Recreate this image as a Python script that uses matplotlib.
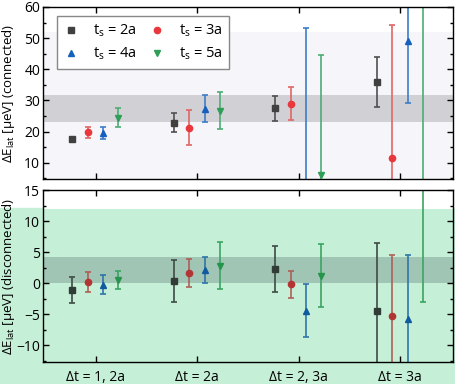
import numpy as np
import matplotlib
matplotlib.use('Agg')
import matplotlib.pyplot as plt
from matplotlib.colors import to_rgb
from matplotlib.patches import Rectangle

plt.rcParams['font.family'] = ['Open Sans', 'DejaVu Sans']
plt.rcParams['font.size'] = 10
plt.rcParams['mathtext.fontset'] = 'custom'
plt.rcParams['mathtext.rm'] = 'Open Sans'
plt.rcParams['mathtext.it'] = 'Open Sans'

# категории и серии
groups = ['Δt = 1, 2a', 'Δt = 2a', 'Δt = 2, 3a', 'Δt = 3a']
series = ['2a', '3a', '4a', '5a']

# connected (верхняя панель)
conn_val = [
    [17.5, 22.9, 27.5, 35.8],
    [19.8, 21.3, 29.0, 11.5],
    [19.6, 27.4, 0.0, 49.0],
    [24.5, 26.7, 6.0, 62.0],
]
conn_err = [
    [0.9, 3.0, 4.0, 8.0],
    [1.7, 5.6, 5.3, 42.6],
    [2.0, 4.4, 53.2, 19.7],
    [3.0, 5.9, 38.7, 65.0],
]
conn_band = (23.2, 31.9)

# disconnected (нижняя панель)
disc_val = [
    [-1.1, 0.3, 2.3, -4.4],
    [0.15, 1.65, -0.2, -5.2],
    [-0.25, 2.1, -4.4, -5.7],
    [0.5, 2.8, 1.2, 20.0],
]
disc_err = [
    [2.1, 3.4, 3.75, 10.8],
    [1.6, 2.2, 2.2, 9.7],
    [1.5, 2.1, 4.2, 10.2],
    [1.5, 3.8, 5.1, 23.1],
]
disc_band = (0.0, 4.2)

markers = ['s', 'o', '^', 'v']
mcolors = ['#404040', '#e8383d', '#1560bd', '#2e9e58']
ecolors = ['#505050', '#e06666', '#3d7cc9', '#4cae74']
offsets = [-0.23, -0.08, 0.075, 0.22]

green = np.array([197, 240, 215]) / 255.0


def tint(c):
    # зелёная подсветка снизу работает как multiply
    return tuple(np.array(to_rgb(c)) * green)


fig = plt.figure(figsize=(4.55, 3.84), dpi=100)
fig.patches.append(Rectangle((0, 0), 1, 0.458, transform=fig.transFigure,
                             color=tuple(green), zorder=-1))

ax1 = fig.add_axes([0.0945, 0.534, 0.901, 0.448])
ax2 = fig.add_axes([0.0945, 0.057, 0.901, 0.448])
ax1.set_facecolor('white')
ax2.set_facecolor('white')

x = np.arange(len(groups))

# верхняя панель
ax1.axhspan(4, 52, color='#f5f5fa', zorder=0, lw=0)
ax1.axhspan(*conn_band, color='#d1d1d5', zorder=0.5, lw=0)
handles = []
for i in range(4):
    ax1.errorbar(x + offsets[i], conn_val[i], yerr=conn_err[i], fmt='none',
                 ecolor=ecolors[i], elinewidth=1.2, capsize=2.5, capthick=1.2, zorder=2)
    h, = ax1.plot(x + offsets[i], conn_val[i], ls='none', marker=markers[i], ms=4.5,
                  color=mcolors[i], label=f'$t_s$ = {series[i]}', zorder=3)
    handles.append(h)

ax1.set_ylim(4.85, 60)
ax1.set_yticks([10, 20, 30, 40, 50, 60])
ax1.set_yticks(np.arange(5, 61, 5), minor=True)
ax1.set_ylabel(r'$\Delta$E$_{\rm lat}$ [μeV] (connected)', fontsize=9.5)
# порядок по строкам: 2a 3a / 4a 5a
order = [0, 2, 1, 3]
ax1.legend([handles[k] for k in order], [handles[k].get_label() for k in order],
           ncol=2, loc='upper left', bbox_to_anchor=(0.034, 0.945), borderaxespad=0,
           fancybox=False, edgecolor='#888888', framealpha=1, fontsize=10.5,
           handletextpad=1.0, columnspacing=0.9, borderpad=0.45, labelspacing=0.45,
           handlelength=1.0)

# нижняя панель
ax2.axhspan(-14, 12, color=tuple(green), zorder=0, lw=0)
ax2.axhspan(*disc_band, color=tint('#d1d1d5'), zorder=0.5, lw=0)
for i in range(4):
    ax2.errorbar(x + offsets[i], disc_val[i], yerr=disc_err[i], fmt='none',
                 ecolor=tint(ecolors[i]), elinewidth=1.2, capsize=2.5, capthick=1.2, zorder=2)
    ax2.plot(x + offsets[i], disc_val[i], ls='none', marker=markers[i], ms=4.5,
             color=tint(mcolors[i]), zorder=3)

ax2.set_ylim(-12.7, 15)
ax2.set_yticks([-10, -5, 0, 5, 10, 15])
ax2.set_yticks(np.arange(-12.5, 15.1, 2.5), minor=True)
ax2.set_ylabel(r'$\Delta$E$_{\rm lat}$ [μeV] (disconnected)', fontsize=9.5)

for ax in (ax1, ax2):
    ax.set_xlim(-0.52, 3.52)
    ax.set_xticks(x)
    ax.yaxis.set_label_coords(-0.064, 0.5)
    ax.tick_params(which='both', direction='in', top=True, right=True, width=1)
    ax.tick_params(which='major', length=4)
    ax.tick_params(which='minor', length=2.5)
    ax.tick_params(axis='x', which='minor', top=False, bottom=False)
    ax.tick_params(axis='y', pad=2)
    for s in ax.spines.values():
        s.set_linewidth(1)

ax1.set_xticklabels([])
ax2.set_xticklabels(groups)
ax2.tick_params(axis='x', pad=6)

fig.savefig('out.png', dpi=100)
